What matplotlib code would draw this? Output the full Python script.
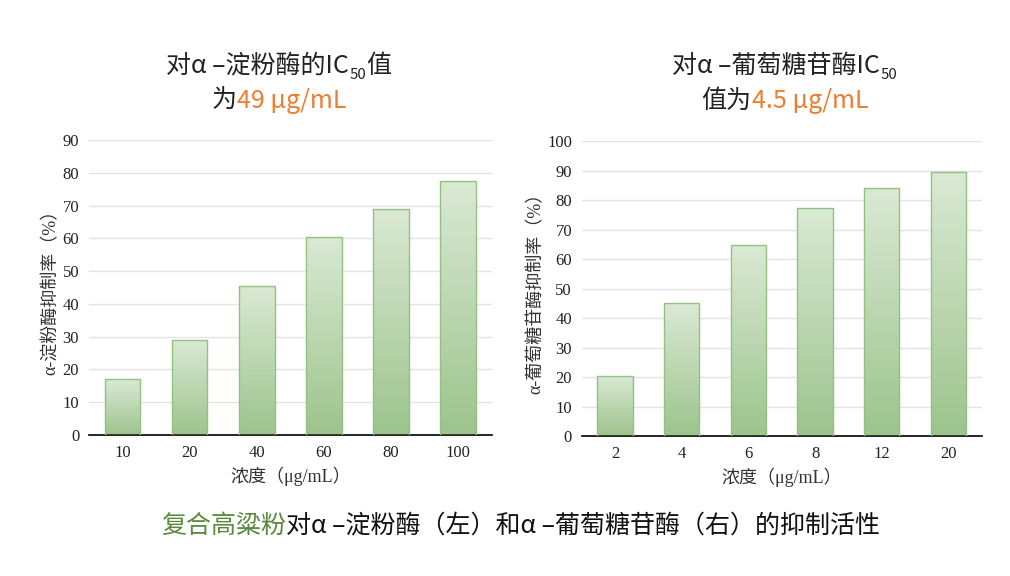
import matplotlib
matplotlib.use("Agg")
import matplotlib.pyplot as plt
import numpy as np
from matplotlib.colors import LinearSegmentedColormap

plt.rcParams['font.family'] = ['Liberation Serif', 'Noto Sans CJK SC', 'DejaVu Sans']

# data
amy_conc = ["10", "20", "40", "60", "80", "100"]
amy_inhib = [17.0, 29.0, 45.5, 60.5, 69.0, 77.5]
glu_conc = ["2", "4", "6", "8", "12", "20"]
glu_inhib = [20.5, 45.0, 64.7, 77.3, 84.2, 89.6]

GREEN_EDGE = "#93c083"
ORANGE = "#ed7d31"
CAP_GREEN = "#5a8a3c"
grad = LinearSegmentedColormap.from_list("g", ["#9dc48d", "#dae9d4"])


def draw_panel(ax, cats, vals, ymax, ylabel):
    x = np.arange(len(cats))
    bars = ax.bar(x, vals, width=0.53, color="none", edgecolor=GREEN_EDGE,
                  linewidth=1.0, zorder=3)
    for b in bars:
        x0, y0 = b.get_x(), b.get_y()
        w, h = b.get_width(), b.get_height()
        im = ax.imshow(np.linspace(0, 1, 100).reshape(-1, 1), cmap=grad,
                       aspect="auto", origin="lower",
                       extent=[x0, x0 + w, y0, y0 + h], zorder=2)
        im.set_clip_path(b)
    ax.set_xlim(-0.5, len(cats) - 0.5)
    ax.set_ylim(0, ymax)
    ax.set_yticks(np.arange(0, ymax + 1, 10))
    ax.set_xticks(x)
    ax.set_xticklabels(cats)
    ax.yaxis.grid(True, color="#e3e3e3", linewidth=1.0, zorder=0)
    ax.set_axisbelow(True)
    for s in ["top", "right", "left"]:
        ax.spines[s].set_visible(False)
    ax.spines["bottom"].set_color("black")
    ax.spines["bottom"].set_linewidth(1.2)
    ax.tick_params(axis="both", length=0, labelsize=12, colors="#222222", pad=7)
    ax.set_xlabel("浓度（μg/mL）", fontsize=13, color="#333333", labelpad=4)
    ax.set_ylabel(ylabel, fontsize=13, color="#333333", labelpad=2)


def text_line(fig, pieces, xc, y, size):
    # pieces: (text, color, scale, dy)
    r = fig.canvas.get_renderer()
    objs = []
    for txt, col, sc, dy in pieces:
        t = fig.text(0, y + dy, txt, color=col, fontsize=size * sc,
                     family=['Noto Sans CJK SC', 'DejaVu Sans'],
                     fontweight="light", va="baseline")
        objs.append(t)
    widths = [t.get_window_extent(renderer=r).width for t in objs]
    total = sum(widths) / fig.bbox.width
    x = xc - total / 2
    for t, w in zip(objs, widths):
        t.set_x(x)
        x += w / fig.bbox.width


fig = plt.figure(figsize=(10.1, 5.76), dpi=100)
ax1 = fig.add_axes([0.088, 0.245, 0.399, 0.512])
ax2 = fig.add_axes([0.576, 0.243, 0.396, 0.512])

draw_panel(ax1, amy_conc, amy_inhib, 90, "α-淀粉酶抑制率（%）")
draw_panel(ax2, glu_conc, glu_inhib, 100, "α-葡萄糖苷酶抑制率（%）")

fig.canvas.draw()
TS = 18
text_line(fig, [("对α –淀粉酶的IC", "#222222", 1, 0), ("50", "#222222", 0.6, -0.012),
                ("值", "#222222", 1, 0)], 0.276, 0.874, TS)
text_line(fig, [("为", "#222222", 1, 0), ("49 μg/mL", ORANGE, 1, 0)], 0.276, 0.812, TS)
text_line(fig, [("对α –葡萄糖苷酶IC", "#222222", 1, 0), ("50", "#222222", 0.6, -0.012)],
          0.777, 0.874, TS)
text_line(fig, [("值为", "#222222", 1, 0), ("4.5 μg/mL", ORANGE, 1, 0)], 0.777, 0.812, TS)
text_line(fig, [("复合高粱粉", CAP_GREEN, 1, 0),
                ("对α –淀粉酶（左）和α –葡萄糖苷酶（右）的抑制活性", "#111111", 1, 0)],
          0.515, 0.075, TS)

fig.savefig("out.png", dpi=100)
